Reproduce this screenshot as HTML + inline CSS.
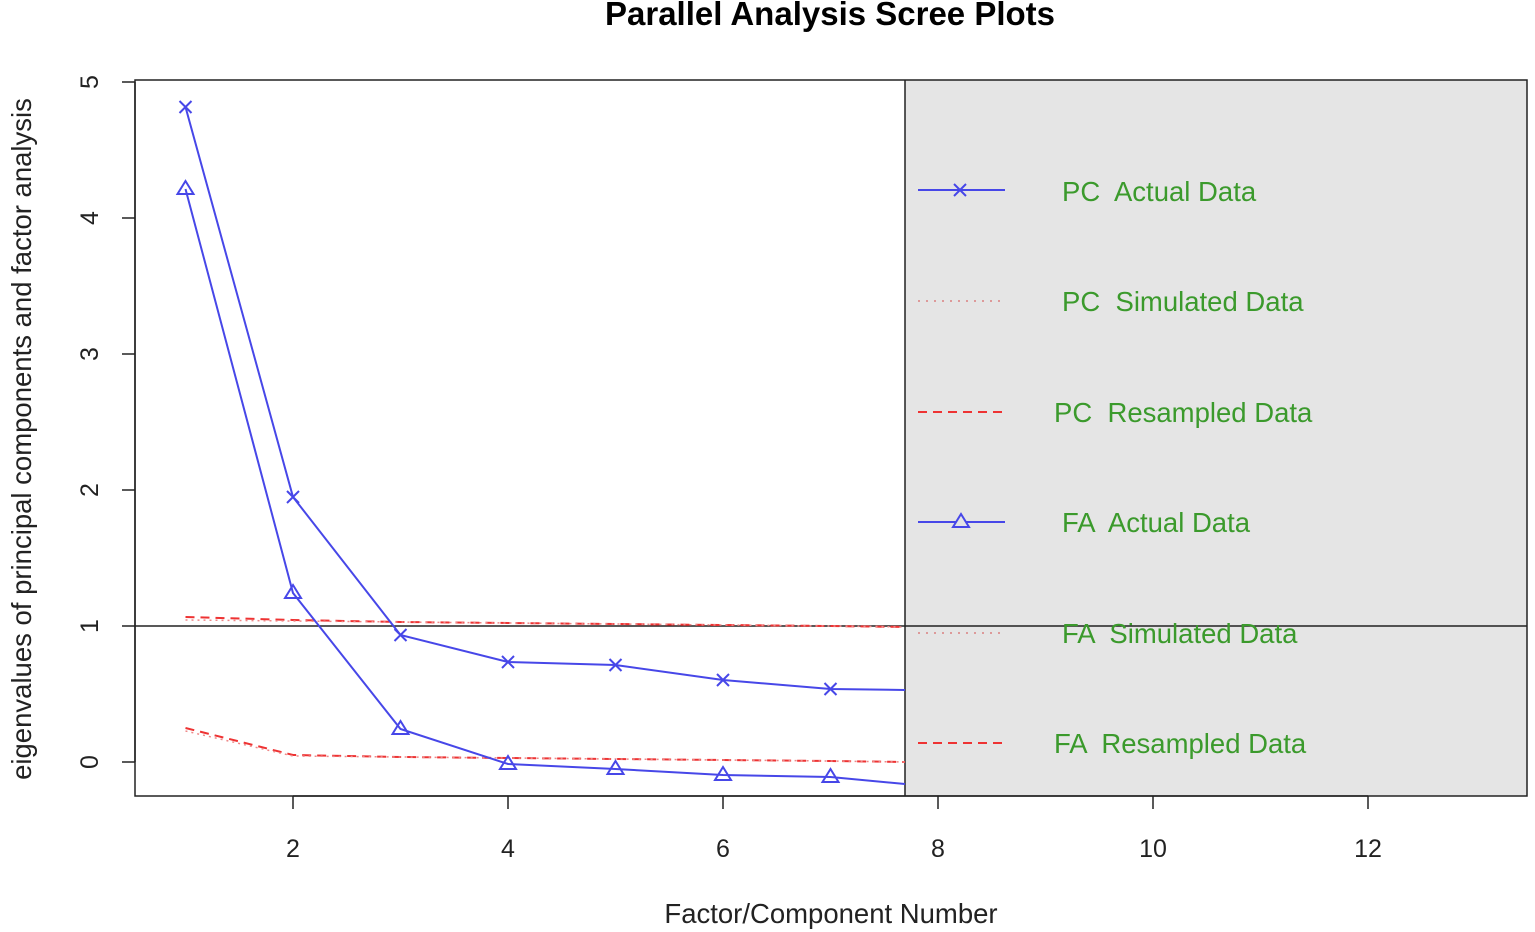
<!DOCTYPE html>
<html><head><style>body{margin:0;background:#fff}svg{display:block}text{white-space:pre}</style></head><body>
<svg width="1535" height="932" xmlns="http://www.w3.org/2000/svg" font-family="Liberation Sans, sans-serif">
<text x="830" y="25" font-size="33" font-weight="bold" text-anchor="middle">Parallel Analysis Scree Plots</text>
<rect x="905" y="80" width="622" height="716" fill="#e5e5e5"/>
<rect x="135" y="80" width="1392" height="716" fill="none" stroke="#222" stroke-width="1.5"/>
<line x1="905" y1="80" x2="905" y2="796" stroke="#222" stroke-width="1.5"/>
<line x1="135" y1="626" x2="1527" y2="626" stroke="#222" stroke-width="1.5"/>
<g stroke="#222" stroke-width="1.5">
<line x1="135" y1="82" x2="135" y2="762"/>
<line x1="122" y1="82" x2="135" y2="82"/><line x1="122" y1="218" x2="135" y2="218"/><line x1="122" y1="354" x2="135" y2="354"/><line x1="122" y1="490" x2="135" y2="490"/><line x1="122" y1="626" x2="135" y2="626"/><line x1="122" y1="762" x2="135" y2="762"/>
<line x1="293" y1="796" x2="1368" y2="796"/>
<line x1="293" y1="796" x2="293" y2="809"/><line x1="508" y1="796" x2="508" y2="809"/><line x1="723" y1="796" x2="723" y2="809"/><line x1="938" y1="796" x2="938" y2="809"/><line x1="1153" y1="796" x2="1153" y2="809"/><line x1="1368" y1="796" x2="1368" y2="809"/>
</g>
<g font-size="25" fill="#222" text-anchor="middle">
<text transform="translate(98,82) rotate(-90)">5</text>
<text transform="translate(98,218) rotate(-90)">4</text>
<text transform="translate(98,354) rotate(-90)">3</text>
<text transform="translate(98,490) rotate(-90)">2</text>
<text transform="translate(98,626) rotate(-90)">1</text>
<text transform="translate(98,762) rotate(-90)">0</text>
<text x="293" y="857">2</text><text x="508" y="857">4</text><text x="723" y="857">6</text><text x="938" y="857">8</text><text x="1153" y="857">10</text><text x="1368" y="857">12</text>
</g>
<g font-size="27.5" fill="#222" text-anchor="middle">
<text x="831" y="923">Factor/Component Number</text>
<text transform="translate(31,439) rotate(-90)">eigenvalues of principal components and factor analysis</text>
</g>
<polyline points="185.5,617 293,620 400.5,622 508,623 615.5,624 723,625 830.5,626 905,627" fill="none" stroke="#e33" stroke-width="2" stroke-dasharray="9,6"/>
<polyline points="185.5,620 293,621 400.5,622 508,623 615.5,624 723,625 830.5,626 905,627" fill="none" stroke="#e88" stroke-width="1.5" stroke-dasharray="2,4"/>
<polyline points="185.5,728 293,755 400.5,757 508,758 615.5,759 723,760 830.5,761 905,762" fill="none" stroke="#e33" stroke-width="2" stroke-dasharray="9,6"/>
<polyline points="185.5,731 293,756 400.5,757 508,758 615.5,759 723,760 830.5,761 905,762" fill="none" stroke="#e88" stroke-width="1.5" stroke-dasharray="2,4"/>
<g fill="none" stroke="#4747e8" stroke-width="2">
<polyline points="185.5,107 293,497 400.5,635 508,662 615.5,665 723,680 830.5,689 905,690"/>
<polyline points="185.5,189 293,593 400.5,729 508,764 615.5,769 723,775 830.5,777 905,784"/>
<path d="M179.5,101l12,12m0,-12l-12,12 M287,491l12,12m0,-12l-12,12 M394.5,629l12,12m0,-12l-12,12 M502,656l12,12m0,-12l-12,12 M609.5,659l12,12m0,-12l-12,12 M717,674l12,12m0,-12l-12,12 M824.5,683l12,12m0,-12l-12,12"/>
<path d="M185.5,181l8,13h-16z M293,585l8,13h-16z M400.5,721l8,13h-16z M508,756l8,13h-16z M615.5,761l8,13h-16z M723,767l8,13h-16z M830.5,769l8,13h-16z"/>
<line x1="918" y1="190" x2="1005" y2="190"/>
<path d="M954,184l12,12m0,-12l-12,12"/>
<line x1="918" y1="522" x2="1005" y2="522"/>
<path d="M961,514l8,13h-16z" fill="#e5e5e5"/>
</g>
<line x1="918" y1="301" x2="1005" y2="301" stroke="#d99" stroke-width="2" stroke-dasharray="2,6"/>
<line x1="918" y1="412" x2="1005" y2="412" stroke="#e33" stroke-width="2" stroke-dasharray="9,6"/>
<line x1="918" y1="633" x2="1005" y2="633" stroke="#d99" stroke-width="2" stroke-dasharray="2,6"/>
<line x1="918" y1="743" x2="1005" y2="743" stroke="#e33" stroke-width="2" stroke-dasharray="9,6"/>
<g font-size="27.5" fill="#3b9a2c" xml:space="preserve">
<text x="1062" y="201">PC  Actual Data</text>
<text x="1062" y="311">PC  Simulated Data</text>
<text x="1054" y="422">PC  Resampled Data</text>
<text x="1062" y="532">FA  Actual Data</text>
<text x="1062" y="643">FA  Simulated Data</text>
<text x="1054" y="753">FA  Resampled Data</text>
</g>
</svg>
</body></html>
